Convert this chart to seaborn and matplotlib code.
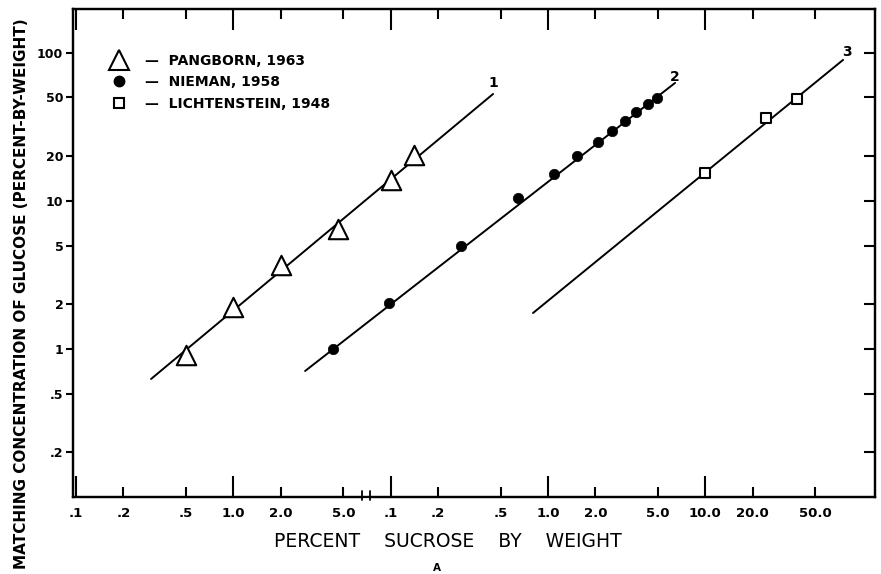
import matplotlib
matplotlib.use("Agg")
import matplotlib.pyplot as plt
import matplotlib.transforms as mtransforms
from matplotlib.lines import Line2D
from matplotlib.ticker import FixedLocator, FixedFormatter, NullLocator
import seaborn as sns

# ---------------- data ----------------
pangborn_sucrose = [0.005, 0.01, 0.02, 0.046, 0.1, 0.14]
pangborn_glucose = [0.91, 1.93, 3.7, 6.5, 13.9, 20.5]

nieman_sucrose = [0.043, 0.098, 0.28, 0.645, 1.09, 1.53, 2.08, 2.55, 3.09, 3.63, 4.33, 4.93]
nieman_glucose = [1.0, 2.05, 5.0, 10.5, 15.2, 20.1, 25.0, 29.7, 34.7, 39.9, 45.2, 49.7]

licht_sucrose = [10.0, 24.4, 38.3]
licht_glucose = [15.5, 36.4, 48.9]

fit1_sucrose = [0.0030, 0.448]
fit1_glucose = [0.627, 52.8]
fit2_sucrose = [0.0286, 6.43]
fit2_glucose = [0.71, 62.7]
fit3_sucrose = [0.804, 75.2]
fit3_glucose = [1.75, 89.7]
fit_names = ["1", "2", "3"]

x_major_ticks = [0.001, 0.01, 0.1, 1, 10]
x_major_labels = [".1", "1.0", ".1", "1.0", "10.0"]
x_minor_ticks = [0.002, 0.005, 0.02, 0.05, 0.2, 0.5, 2, 5, 20, 50]
x_minor_labels = [".2", ".5", "2.0", "5.0", ".2", ".5", "2.0", "5.0", "20.0", "50.0"]
y_ticks = [0.2, 0.5, 1, 2, 5, 10, 20, 50, 100]
y_labels = [".2", ".5", "1", "2", "5", "10", "20", "50", "100"]

legend_labels = ["—  PANGBORN, 1963", "—  NIEMAN, 1958", "—  LICHTENSTEIN, 1948"]
x_title = "PERCENT    SUCROSE    BY    WEIGHT"
y_title = "MATCHING CONCENTRATION OF GLUCOSE (PERCENT-BY-WEIGHT)"

# ---------------- style ----------------
sns.set_style("ticks")
plt.rcParams["font.family"] = ["DejaVu Sans"]
plt.rcParams["font.weight"] = "bold"
for key in ("text.color", "axes.labelcolor", "xtick.color", "ytick.color",
            "axes.edgecolor"):
    plt.rcParams[key] = "black"

W, H = 881, 574
fig = plt.figure(figsize=(W / 100, H / 100), dpi=100)
fig.patch.set_facecolor("white")
ax = fig.add_axes([73 / W, 1 - 497 / H, 802 / W, 488 / H])
ax.set_facecolor("white")
ax.set_xscale("log")
ax.set_yscale("log")
ax.set_xlim(0.000957, 120)
ax.set_ylim(0.1, 198)

# fitted lines
for fx, fy in [(fit1_sucrose, fit1_glucose),
               (fit2_sucrose, fit2_glucose),
               (fit3_sucrose, fit3_glucose)]:
    sns.lineplot(x=fx, y=fy, ax=ax, color="black", lw=1.4, sort=False,
                 estimator=None, legend=False)

offsets = [(0, 8), (0, 4.5), (3, 6)]
for fx, fy, name, off in zip([fit1_sucrose, fit2_sucrose, fit3_sucrose],
                             [fit1_glucose, fit2_glucose, fit3_glucose],
                             fit_names, offsets):
    ax.annotate(name, xy=(fx[-1], fy[-1]), xytext=off, textcoords="offset points",
                ha="center", va="center", fontsize=10, fontweight="bold",
                color="black")

# data points
sns.scatterplot(x=pangborn_sucrose, y=pangborn_glucose, ax=ax, marker="^", s=196,
                color="white", edgecolor="black", linewidth=1.5, zorder=4, legend=False)
sns.scatterplot(x=nieman_sucrose, y=nieman_glucose, ax=ax, marker="o", s=56,
                color="black", edgecolor="black", linewidth=0.5, zorder=4, legend=False)
sns.scatterplot(x=licht_sucrose, y=licht_glucose, ax=ax, marker="s", s=56,
                color="white", edgecolor="black", linewidth=1.5, zorder=4, legend=False)

# ticks
ax.xaxis.set_major_locator(FixedLocator(x_major_ticks))
ax.xaxis.set_major_formatter(FixedFormatter(x_major_labels))
ax.xaxis.set_minor_locator(FixedLocator(x_minor_ticks))
ax.xaxis.set_minor_formatter(FixedFormatter(x_minor_labels))
ax.yaxis.set_major_locator(FixedLocator(y_ticks))
ax.yaxis.set_major_formatter(FixedFormatter(y_labels))
ax.yaxis.set_minor_locator(NullLocator())

ax.tick_params(axis="x", which="major", direction="in", top=True, bottom=True,
               length=15, width=1.5, pad=7, labelsize=9.5, colors="black")
ax.tick_params(axis="x", which="minor", direction="in", top=True, bottom=True,
               length=7, width=1.5, pad=7, labelsize=9.5, colors="black")
ax.tick_params(axis="y", which="major", direction="out", left=True, right=False,
               length=5, width=1.5, pad=2, labelsize=9, colors="black")

ax2 = ax.twinx()
ax2.set_yscale("log")
ax2.set_ylim(ax.get_ylim())
ax2.yaxis.set_major_locator(FixedLocator(y_ticks))
ax2.yaxis.set_minor_locator(NullLocator())
ax2.tick_params(axis="y", which="major", direction="in", right=True, left=False,
                length=8, width=1.5, labelright=False, colors="black")

for a in (ax, ax2):
    for sp in a.spines.values():
        sp.set_visible(True)
        sp.set_linewidth(1.6)
        sp.set_color("black")

# axis break marks on the bottom axis
trans = mtransforms.blended_transform_factory(ax.transData, ax.transAxes)
ax.plot([0.0668, 0.0728], [0, 0], transform=trans, color="white", lw=2.5,
        clip_on=False, zorder=5)
for bx in (0.0658, 0.0738):
    ax.plot([bx, bx], [-0.006, 0.012], transform=trans, color="black", lw=1.3,
            clip_on=False, zorder=6)

# titles
ax.set_xlabel(x_title, fontsize=13.5, fontweight="normal", color="black")
ax.xaxis.label.set_va("baseline")
ax.xaxis.set_label_coords((447.5 - 73) / 802, (497 - 547) / 488)
ax.set_ylabel(y_title, fontsize=11, fontweight="bold", color="black")
ax.yaxis.label.set_va("center")
ax.yaxis.label.set_ha("center")
ax.yaxis.set_label_coords((22 - 73) / 802, (497 - 293.5) / 488)

fig.text(437 / W, 1 - 568 / H, "A", ha="center", va="center", fontsize=7.5,
         fontweight="bold", color="black")

# legend
handles = [
    Line2D([], [], ls="none", marker="^", ms=14, mfc="white", mec="black", mew=1.5),
    Line2D([], [], ls="none", marker="o", ms=7.5, mfc="black", mec="black"),
    Line2D([], [], ls="none", marker="s", ms=7.5, mfc="white", mec="black", mew=1.5),
]
leg = ax.legend(handles, legend_labels, loc="upper left",
                bbox_to_anchor=(108.6 / W, 1 - 54 / H), bbox_transform=fig.transFigure,
                frameon=False, prop={"weight": "bold", "size": 10},
                handlelength=1.5, handletextpad=1.12, labelspacing=0.53,
                borderpad=0, borderaxespad=0)
for t in leg.get_texts():
    t.set_color("black")

fig.savefig("out.png", dpi=100, facecolor="white")
